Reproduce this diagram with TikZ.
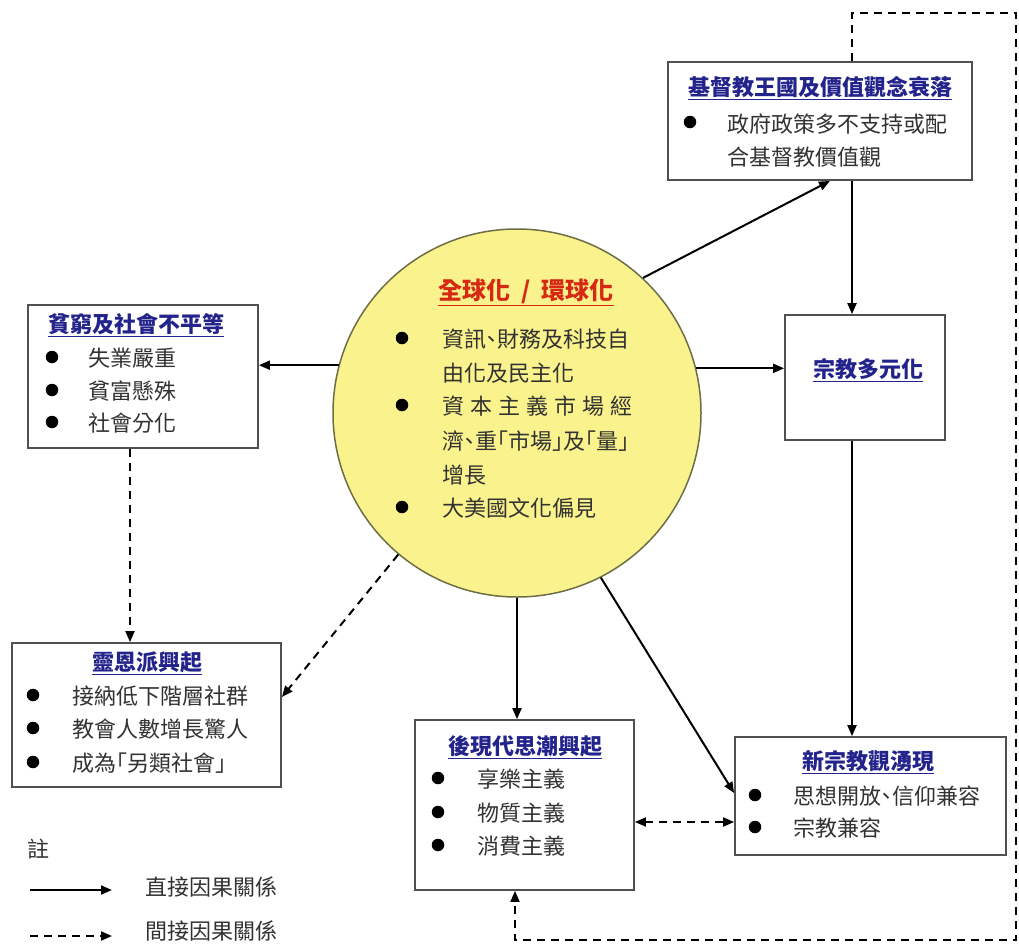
\documentclass[tikz,border=0pt]{standalone}
\usepackage{fontspec}
\setmainfont{Noto Sans CJK TC}
\newfontfamily\cjkh[RawFeature=+halt]{Noto Sans CJK TC}
\usetikzlibrary{arrows.meta,calc}
\definecolor{ttlc}{RGB}{35,35,140}
\definecolor{redc}{RGB}{215,40,20}
\definecolor{bodyc}{RGB}{50,50,50}
\definecolor{circfill}{RGB}{250,242,140}
\definecolor{circline}{RGB}{110,110,70}
\definecolor{boxline}{RGB}{80,80,80}
\tikzset{
  box/.style={draw=boxline, line width=1.8pt, fill=white, inner sep=0pt},
  circnode/.style={circle, draw=circline, line width=1.5pt, fill=circfill, inner sep=0pt},
  txt/.style={font=\fontsize{22}{26}\selectfont\cjkh, text=bodyc, inner sep=0pt, anchor=west},
  ctxt/.style={font=\fontsize{22}{26}\selectfont\cjkh, text=bodyc, inner sep=0pt, anchor=west},
  ttl/.style={font=\fontsize{22}{26}\selectfont\bfseries, text=ttlc, inner sep=0pt},
  bul/.style={circle, fill=black, inner sep=0pt, minimum size=12.5pt},
  arr/.style={-{Triangle[length=11pt,width=9pt]}, line width=2pt, draw=black},
  darr/.style={arr, dash pattern=on 8pt off 6pt},
}
\begin{document}
\begin{tikzpicture}[x=1pt,y=-1pt]
\useasboundingbox (0,0) rectangle (1019,945);
\fill[white] (0,0) rectangle (1019,945);

% helper coordinates
\coordinate (vx) at (852,0);
\coordinate (hy) at (0,822);
\coordinate (fbA) at (1016,13);
\coordinate (fbB) at (1016,940);

% boxes
\node[box, minimum width=304pt, minimum height=118pt] (top) at (820,121) {};
\node[box, minimum width=160pt, minimum height=125pt] (relig) at (865,377.5) {};
\node[box, minimum width=271pt, minimum height=118pt] (newrel) at (870.5,796) {};
\node[box, minimum width=219pt, minimum height=170pt] (postmod) at (524.5,805) {};
\node[box, minimum width=269pt, minimum height=144pt] (charis) at (146.5,715) {};
\node[box, minimum width=230pt, minimum height=143pt] (poverty) at (143,376.5) {};
\node[circnode, minimum size=368pt] (circ) at (517,413) {};

% top box text
\node[ttl] (t1) at (820,88) {\underline{基督教王國及價值觀念衰落}};
\node[bul] (t1b) at (690,122) {};
\node[txt] (t1a) at (727,124) {政府政策多不支持或配};
\node[txt] (t1c) at (727,157) {合基督教價值觀};

% religion pluralism
\node[ttl] (t2) at (868,370) {\underline{宗教多元化}};

% new religion
\node[ttl] (t3) at (868,762) {\underline{新宗教觀湧現}};
\node[bul] (t3b1) at (755,795) {};
\node[txt] (t3a) at (793,796) {思想開放、信仰兼容};
\node[bul] (t3b2) at (755,827) {};
\node[txt] (t3c) at (793,828) {宗教兼容};

% postmodern
\node[ttl] (t4) at (525,747) {\underline{後現代思潮興起}};
\node[bul] (t4b1) at (438,778) {};
\node[txt] (t4a) at (477,779) {享樂主義};
\node[bul] (t4b2) at (438,812) {};
\node[txt] (t4c) at (477,813) {物質主義};
\node[bul] (t4b3) at (438,845) {};
\node[txt] (t4d) at (477,846) {消費主義};

% charismatic
\node[ttl] (t5) at (147,663) {\underline{靈恩派興起}};
\node[bul] (t5b1) at (33,695) {};
\node[txt] (t5a) at (72,696) {接納低下階層社群};
\node[bul] (t5b2) at (33,728) {};
\node[txt] (t5c) at (72,729) {教會人數增長驚人};
\node[bul] (t5b3) at (33,762) {};
\node[txt] (t5d) at (72,763) {成為「另類社會」};

% poverty
\node[ttl] (t6) at (136,325) {\underline{貧窮及社會不平等}};
\node[bul] (t6b1) at (52,357) {};
\node[txt] (t6a) at (88,358) {失業嚴重};
\node[bul] (t6b2) at (52,390) {};
\node[txt] (t6c) at (88,391) {貧富懸殊};
\node[bul] (t6b3) at (52,422) {};
\node[txt] (t6d) at (88,423) {社會分化};

% circle text
\node[ttl, text=redc, font=\fontsize{24}{28}\selectfont\bfseries] (t7) at (526,292) {\underline{全球化\ \ /\ \ 環球化}};
\node[bul] (t7b1) at (402,338) {};
\node[ctxt] (t7a) at (442,339) {資訊、財務及科技自};
\node[ctxt] (t7c) at (442,373) {由化及民主化};
\node[bul] (t7b2) at (402,405) {};
\node[ctxt] (t7d) at (442,406) {\makebox[190pt][s]{資\hfill 本\hfill 主\hfill 義\hfill 市\hfill 場\hfill 經}};
\node[ctxt] (t7e) at (442,441) {濟、重「市場」及「量」};
\node[ctxt] (t7f) at (442,475) {增長};
\node[bul] (t7b3) at (402,507) {};
\node[ctxt] (t7g) at (442,508) {大美國文化偏見};

% legend
\node[txt] (l0) at (27,849) {註};
\coordinate (ls1) at (30,890);
\coordinate (le1) at (112,890);
\coordinate (ls2) at (30,936);
\coordinate (le2) at (112,936);
\node[txt] (l1) at (145,887) {直接因果關係};
\node[txt] (l2) at (145,931) {間接因果關係};
\draw[arr] (ls1) -- (le1);
\draw[darr] (ls2) -- (le2);

% connectors
\draw[arr] (circ.47.6) -- ([xshift=10pt]top.south);
\draw[arr] (top.south -| vx) -- (relig.north -| vx);
\draw[arr] (relig.south -| vx) -- (newrel.north -| vx);
\draw[arr] (circ.165.5) -- (poverty.east |- circ.165.5);
\draw[arr] (circ.14.5) -- (relig.west |- circ.14.5);
\draw[arr] (circ.south) -- (postmod.north -| circ.south);
\draw[arr] (circ.-63) -- ([yshift=3pt]newrel.west);
\draw[darr] ([xshift=-13pt]poverty.south) -- ([xshift=-13pt]poverty.south |- charis.north);
\draw[darr] (circ.230) -- ([yshift=18pt]charis.east);
\draw[darr, {Triangle[length=11pt,width=9pt]}-{Triangle[length=11pt,width=9pt]}] (postmod.east |- hy) -- (newrel.west |- hy);
\draw[darr] (top.north -| vx) |- (fbA) -- (fbB) -| ([xshift=-9.5pt]postmod.south);
\end{tikzpicture}
\end{document}
